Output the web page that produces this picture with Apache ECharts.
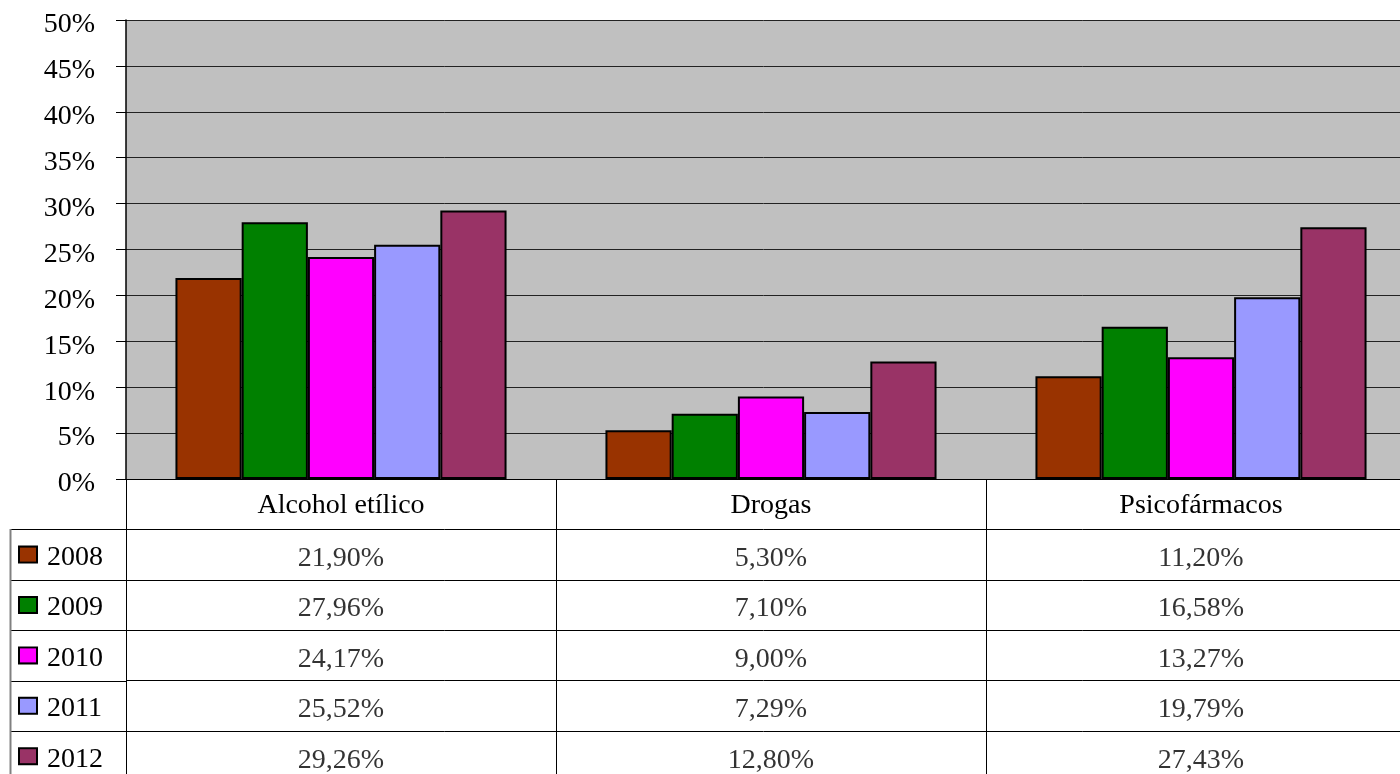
<!DOCTYPE html>
<html>
<head>
<meta charset="utf-8">
<script src="https://cdn.jsdelivr.net/npm/echarts@6/dist/echarts.min.js"></script>
<style>
html, body { margin: 0; padding: 0; background: #fff; }
#main { width: 1400px; height: 774px; }
</style>
</head>
<body>
<div id="main"></div>
<script>
var categories = ['Alcohol etílico', 'Drogas', 'Psicofármacos'];
var years = ['2008', '2009', '2010', '2011', '2012'];
var v2008 = [21.90, 5.30, 11.20];
var v2009 = [27.96, 7.10, 16.58];
var v2010 = [24.17, 9.00, 13.27];
var v2011 = [25.52, 7.29, 19.79];
var v2012 = [29.26, 12.80, 27.43];
var seriesValues = [v2008, v2009, v2010, v2011, v2012];
var colors = ['#993300', '#008000', '#FF00FF', '#9999FF', '#993366'];

// layout
var FONT = '"Liberation Serif", "Times New Roman", serif';
var FS = 28;
var PLOT_LEFT = 126, PLOT_TOP = 20, PLOT_W = 1290, PLOT_H = 459;
var TABLE_TOP = PLOT_TOP + PLOT_H;
var ROW_H = 50.4;
var TABLE_ROWS = years.length + 1;
var LEGEND_LEFT = 10;

var myChart = echarts.init(document.getElementById('main'), null, {renderer: 'canvas'});

var barSeries = years.map(function (y, i) {
    return {
        name: y,
        type: 'bar',
        xAxisIndex: 0,
        yAxisIndex: 0,
        data: seriesValues[i],
        barGap: '0%',
        barCategoryGap: '23%',
        itemStyle: { color: colors[i], borderColor: '#000', borderWidth: 2 }
    };
});

var tableData = [];
years.forEach(function (y, i) {
    categories.forEach(function (c, j) {
        tableData.push([c, y, seriesValues[i][j]]);
    });
});

var rich = { t: { fontFamily: FONT, fontSize: FS, color: '#000', padding: [6, 0, 0, 0] } };
years.forEach(function (y, i) {
    rich['s' + i] = {
        width: 16, height: 14,
        backgroundColor: colors[i],
        borderColor: '#000', borderWidth: 2
    };
});
rich.gap = { width: 11 };

// left part of the table (legend column)
var graphics = [];
for (var r = 1; r < TABLE_ROWS; r++) {
    var yy = Math.round(TABLE_TOP + ROW_H * r) + 0.5;
    graphics.push({
        type: 'line', silent: true,
        shape: { x1: LEGEND_LEFT, y1: yy, x2: PLOT_LEFT, y2: yy },
        style: { stroke: '#000', lineWidth: 1 }
    });
}
graphics.push({
    type: 'line', silent: true,
    shape: { x1: LEGEND_LEFT + 0.5, y1: Math.round(TABLE_TOP + ROW_H), x2: LEGEND_LEFT + 0.5, y2: 774 },
    style: { stroke: '#808080', lineWidth: 2 }
});

var option = {
    animation: false,
    backgroundColor: '#fff',
    grid: [
        {
            left: PLOT_LEFT, top: PLOT_TOP, width: PLOT_W, height: PLOT_H,
            outerBoundsMode: 'none',
            show: true, backgroundColor: '#C0C0C0', borderWidth: 0
        },
        {
            left: PLOT_LEFT, top: TABLE_TOP, width: PLOT_W, height: ROW_H * TABLE_ROWS,
            outerBoundsMode: 'none',
            show: false
        }
    ],
    xAxis: [
        {
            type: 'category',
            gridIndex: 0,
            data: categories,
            axisLine: { show: true, lineStyle: { color: '#000', width: 1 } },
            axisTick: { show: false },
            axisLabel: { fontFamily: FONT, fontSize: FS, color: '#000', margin: 13 },
            splitLine: { show: false }
        },
        {
            type: 'category',
            gridIndex: 1,
            data: categories,
            axisLine: { show: false },
            axisTick: { show: false },
            axisLabel: { show: false },
            splitLine: { show: true, lineStyle: { color: '#000', width: 1 } }
        }
    ],
    yAxis: [
        {
            type: 'value',
            gridIndex: 0,
            min: 0, max: 50, interval: 5,
            axisLine: { show: true, lineStyle: { color: '#000', width: 1.5 } },
            axisTick: { show: true, length: 10, lineStyle: { color: '#000' } },
            axisLabel: {
                formatter: function (v) { return '{p|' + v + '%}'; },
                margin: 31,
                rich: { p: { fontFamily: FONT, fontSize: FS, color: '#000', padding: [10, 0, 0, 0] } }
            },
            splitLine: { show: true, lineStyle: { color: '#222', width: 1 } }
        },
        {
            type: 'category',
            gridIndex: 1,
            inverse: true,
            data: [''].concat(years),
            axisLine: { show: false },
            axisTick: { show: false },
            axisLabel: {
                align: 'left',
                margin: PLOT_LEFT - 20,
                formatter: function (value, idx) {
                    if (!value) return '';
                    return '{s' + (idx - 1) + '|}{gap|}{t|' + value + '}';
                },
                rich: rich
            },
            splitLine: { show: true, lineStyle: { color: '#000', width: 1 } }
        }
    ],
    graphic: graphics,
    series: barSeries.concat([
        {
            type: 'scatter',
            xAxisIndex: 1,
            yAxisIndex: 1,
            symbolSize: 1,
            itemStyle: { color: 'rgba(0,0,0,0)' },
            label: {
                show: true,
                position: 'inside',
                offset: [0, 4],
                fontFamily: FONT, fontSize: FS, color: '#000',
                formatter: function (p) {
                    return p.value[2].toFixed(2).replace('.', ',') + '%';
                }
            },
            data: tableData
        }
    ])
};
myChart.setOption(option);
</script>
</body>
</html>
